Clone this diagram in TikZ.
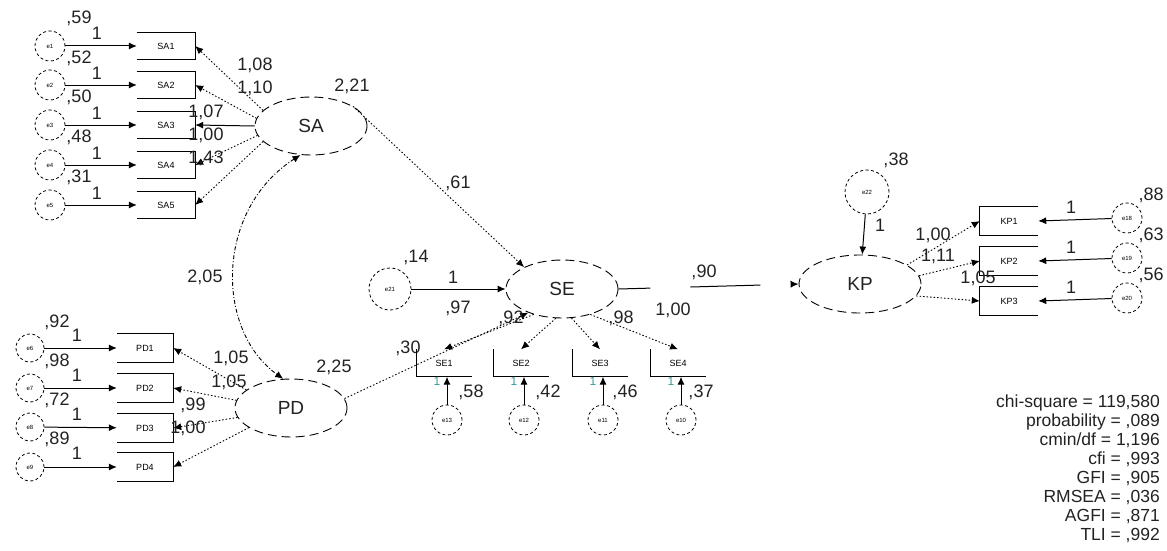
\documentclass[tikz,border=0pt]{standalone}
\usepackage{fontspec}
\setmainfont{Liberation Sans}
\usetikzlibrary{shapes.geometric,arrows.meta}
\definecolor{txt}{HTML}{222222}
\definecolor{tealone}{HTML}{3A9A9A}
\begin{document}
\begin{tikzpicture}[x=1pt,y=-1pt,
  lat/.style={ellipse,draw,line width=0.9pt,dash pattern=on 9pt off 5pt,minimum width=112pt,minimum height=58pt,inner sep=0pt,font=\fontsize{19}{19}\selectfont,text=txt},
  err/.style={circle,draw,line width=0.8pt,dash pattern=on 3pt off 2.5pt,minimum size=30pt,inner sep=0pt,font=\fontsize{6}{6}\selectfont},
  obs/.style={rectangle,minimum width=58pt,minimum height=27pt,inner sep=0pt,font=\fontsize{9}{9}\selectfont},
  lbl/.style={font=\fontsize{18}{18}\selectfont,text=txt,inner sep=0pt},
  smallone/.style={font=\fontsize{12}{12}\selectfont,text=tealone,inner sep=0pt},
  arrowend/.style={-{Latex[length=8pt,width=7pt]}},
  solidarr/.style={arrowend,line width=1pt},
  loadline/.style={arrowend,line width=0.9pt,dash pattern=on 1.5pt off 2pt},
  covline/.style={{Latex[length=8pt,width=7pt]}-{Latex[length=8pt,width=7pt]},line width=0.9pt,dash pattern=on 4pt off 2pt on 1pt off 2pt},
  boxline/.style={line width=1pt}
]
\useasboundingbox (0,0) rectangle (1167,551);

% ---------- SA block ----------
\node[lat] (SA) at (311,126) {SA};
\foreach \i/\y in {1/46,2/85,3/125,4/165,5/205} {
  \node[obs] (SA\i) at (166,\y) {SA\i};
  \node[err] (e\i) at (50,\y) {e\i};
  \draw[solidarr] (e\i) -- (SA\i);
  \draw[boxline] (SA\i.north west) -- (SA\i.north east) -- (SA\i.south east) -- (SA\i.south west);
}
\foreach \n/\t/\y in {a/{,59}/18,b/{,52}/58,c/{,50}/97,d/{,48}/137,e/{,31}/177} {
  \node[lbl] (vsa\n) at (79,\y) {\t};
}
\foreach \n/\y in {a/33,b/73,c/113,d/153,e/193} {
  \node[lbl] (osa\n) at (97,\y) {1};
}
\draw[loadline] (SA.162) -- (SA1.east);
\draw[loadline] (SA.172) -- (SA2.east);
\draw[arrowend,line width=1pt] (SA.180) -- (SA3.east);
\draw[loadline] (SA.190) -- (SA4.east);
\draw[loadline] (SA.198) -- (SA5.east);
\node[lbl] (l1) at (255,65) {1,08};
\node[lbl] (l2) at (255,88) {1,10};
\node[lbl] (l3) at (206,112) {1,07};
\node[lbl] (l4) at (206,135) {1,00};
\node[lbl] (l5) at (206,158) {1,43};
\node[lbl] (vSA) at (352,86) {2,21};

% ---------- PD block ----------
\node[lat] (PD) at (291,408) {PD};
\foreach \i/\y in {1/348,2/388,3/428,4/467} {
  \node[obs,minimum width=56pt,minimum height=28pt] (PD\i) at (145,\y) {PD\i};
  \draw[boxline] (PD\i.north west) -- (PD\i.north east) -- (PD\i.south east) -- (PD\i.south west);
}
\foreach \i/\y in {6/348,7/388,8/427,9/467} {
  \node[err,minimum size=28pt] (e\i) at (30,\y) {e\i};
}
\draw[solidarr] (e6) -- (PD1);
\draw[solidarr] (e7) -- (PD2);
\draw[solidarr] (e8) -- (PD3);
\draw[solidarr] (e9) -- (PD4);
\foreach \n/\t/\y in {a/{,92}/322,b/{,98}/361,c/{,72}/400,d/{,89}/439} {
  \node[lbl] (vpd\n) at (57,\y) {\t};
}
\foreach \n/\y in {a/335,b/375,c/414,d/453} {
  \node[lbl] (opd\n) at (77,\y) {1};
}
\draw[loadline] (PD.158) -- (PD1.east);
\draw[loadline] (PD.172) -- (PD2.east);
\draw[loadline] (PD.190) -- (PD3.east);
\draw[loadline] (PD.205) -- (PD4.east);
\node[lbl] (l6) at (231,358) {1,05};
\node[lbl] (l7) at (229,382) {1,05};
\node[lbl] (l8) at (193,405) {,99};
\node[lbl] (l9) at (188,428) {1,00};
\node[lbl] (vPD) at (334,367) {2,25};

% covariance SA <-> PD
\draw[covline] (SA.250) .. controls (215,210) and (215,330) .. (PD.105);
\node[lbl] (cov) at (205,277) {2,05};

% ---------- SE block ----------
\node[lat] (SE) at (562,289) {SE};
\node[err,minimum size=42pt] (e21) at (390,289) {e21};
\draw[solidarr] (e21) -- (SE);
\node[lbl] (vSE) at (416,257) {,14};
\node[lbl] (oSE) at (453,277) {1};
\draw[loadline] (SA.25) -- (SE.150);
\node[lbl] (l10) at (458,183) {,61};
\draw[loadline] (PD.10) -- (SE.215);
\node[lbl] (l11) at (408,348) {,30};

\foreach \i/\x/\e in {1/444/13,2/521/12,3/600/11,4/678/10} {
  \node[obs,minimum width=55pt] (SE\i) at (\x,363) {SE\i};
  \draw[boxline] (SE\i.north west) -- (SE\i.south west) -- (SE\i.south east);
  \node[err] (e\e) at (\x+3,420) {e\e};
  \draw[solidarr] (e\e) -- (SE\i.south -| e\e);
  \node[smallone] (ose\i) at (\x-7,381) {1};
}
\node[lbl] (vse1) at (471,392) {,58};
\node[lbl] (vse2) at (548,392) {,42};
\node[lbl] (vse3) at (625,392) {,46};
\node[lbl] (vse4) at (701,392) {,37};
\draw[loadline] (SE.222) -- (SE1.north);
\draw[loadline] (SE.258) -- (SE2.north);
\draw[loadline] (SE.288) -- (SE3.north);
\draw[loadline] (SE.318) -- (SE4.north);
\node[lbl] (l12) at (458,308) {,97};
\node[lbl] (l13) at (511,318) {,92};
\node[lbl] (l14) at (621,318) {,98};
\node[lbl] (l15) at (673,310) {1,00};

% ---------- KP block ----------
\node[lat,minimum width=122pt] (KP) at (860,284) {KP};
\draw[arrowend,line width=1pt,dash pattern=on 32pt off 40pt on 70pt off 40pt] (SE.east) -- (KP.west);
\node[lbl] (l16) at (704,272) {,90};
\node[err,minimum size=44pt] (e22) at (867,192) {e22};
\draw[solidarr] (e22) -- (KP);
\node[lbl] (vKP) at (896,160) {,38};
\node[lbl] (oKP) at (880,225) {1};

\foreach \i/\y/\e in {1/221/18,2/261/19,3/301/20} {
  \node[obs,minimum height=28pt] (KP\i) at (1009,\y) {KP\i};
  \draw[boxline] (KP\i.north east) -- (KP\i.north west) -- (KP\i.south west) -- (KP\i.south east);
  \node[err] (e\e) at (1127,\y-3) {e\e};
  \draw[solidarr] (e\e) -- (KP\i.east);
  \node[lbl] (okp\i) at (1071,\y-14) {1};
}
\node[lbl] (vkp1) at (1151,195) {,88};
\node[lbl] (vkp2) at (1151,235) {,63};
\node[lbl] (vkp3) at (1151,275) {,56};
\draw[loadline] (KP.22) -- (KP1.west);
\draw[loadline] (KP.8) -- (KP2.west);
\draw[loadline] (KP.-12) -- (KP3.west);
\node[lbl] (l17) at (933,235) {1,00};
\node[lbl] (l18) at (938,256) {1,11};
\node[lbl] (l19) at (978,278) {1,05};

% ---------- fit statistics ----------
\node[anchor=north east,align=right,inner sep=0pt,text=txt,font=\fontsize{17.5}{18.9}\selectfont] (fit) at (1160,395)
 {chi-square = 119,580\\ probability = ,089\\ cmin/df = 1,196\\ cfi = ,993\\ GFI = ,905\\ RMSEA = ,036\\ AGFI = ,871\\ TLI = ,992};
\end{tikzpicture}
\end{document}
